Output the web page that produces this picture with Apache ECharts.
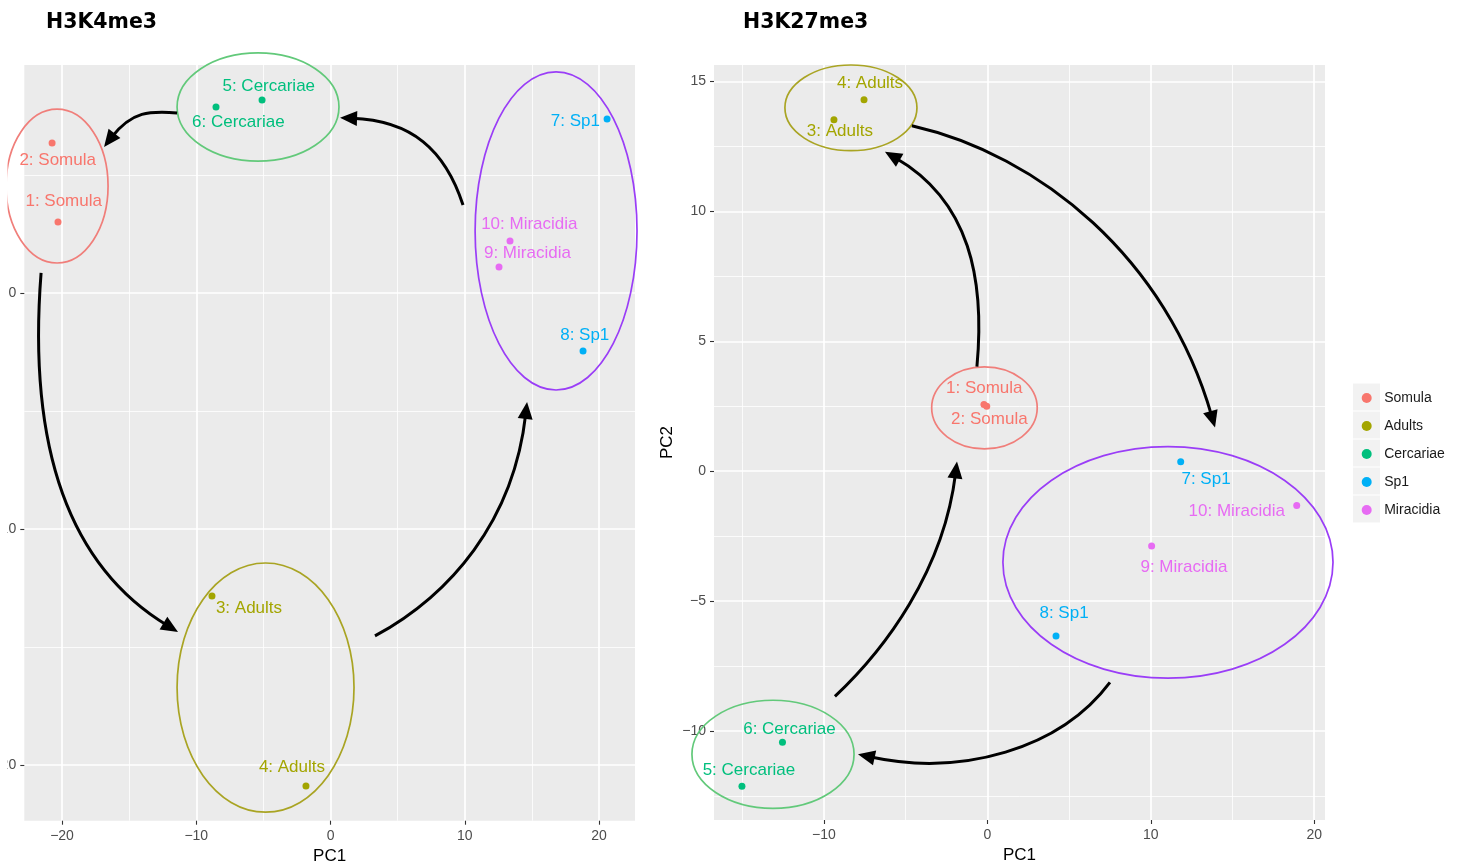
<!DOCTYPE html>
<html>
<head>
<meta charset="utf-8">
<script src="https://cdn.jsdelivr.net/npm/echarts@6/dist/echarts.min.js"></script>
<style>html,body{margin:0;padding:0;background:#fff}#c{width:1461px;height:865px}</style>
</head>
<body>
<div id="c"></div>
<script>
// ---------- data ----------
const groups = ['Somula', 'Adults', 'Cercariae', 'Sp1', 'Miracidia'];
const sampleIds = [1, 2, 3, 4, 5, 6, 7, 8, 9, 10];
const sampleGroups = ['Somula', 'Somula', 'Adults', 'Adults', 'Cercariae', 'Cercariae', 'Sp1', 'Sp1', 'Miracidia', 'Miracidia'];

// H3K4me3 PCA
const k4PC1 = [-20.30, -20.74, -8.83, -1.83, -5.10, -8.53, 20.60, 18.81, 12.55, 13.37];
const k4PC2 = [3.01, 6.36, -12.84, -20.89, 8.18, 7.88, 7.37, -2.46, 1.10, 2.20];
// H3K27me3 PCA
const k27PC1 = [-0.21, -0.04, -9.39, -7.55, -15.02, -12.54, 11.83, 4.20, 10.05, 18.93];
const k27PC2 = [2.57, 2.50, 13.53, 14.30, -12.13, -10.44, 0.36, -6.35, -2.88, -1.32];

// axis ranges and ticks
const k4XRange = [-22.81, 22.68];
const k4YRange = [-22.36, 9.66];
const k27XRange = [-16.73, 20.66];
const k27YRange = [-13.43, 15.64];
const k4XTicks = [-20, -10, 0, 10, 20];
const k4XMinor = [-15, -5, 5, 15];
const k4YTicks = [-20, -10, 0];
const k4YMinor = [-15, -5, 5];
const k27XTicks = [-10, 0, 10, 20];
const k27XMinor = [-15, -5, 5, 15];
const k27YTicks = [-10, -5, 0, 5, 10, 15];
const k27YMinor = [-12.5, -7.5, -2.5, 2.5, 7.5, 12.5];

// group ellipses [centre PC1, centre PC2, radius PC1, radius PC2]
const k4Ellipses = [[-20.37, 4.53, 3.80, 3.26], [-5.40, 7.88, 6.03, 2.29], [16.80, 2.63, 6.03, 6.74], [-4.84, -16.72, 6.59, 5.28]];
const k4EllipseGroups = ['Somula', 'Cercariae', 'Sp1+Miracidia', 'Adults'];
const k27Ellipses = [[-8.35, 13.99, 4.04, 1.65], [-0.18, 2.44, 3.23, 1.58], [11.05, -3.51, 10.10, 4.46], [-13.12, -10.90, 4.96, 2.08]];
const k27EllipseGroups = ['Adults', 'Somula', 'Sp1+Miracidia', 'Cercariae'];

// curved arrows (cubic): start, control1, control2, end in PC units
const k4Arrows = [
  [-11.43, 7.63, -13.45, 7.71, -15.31, 7.33, -16.87, 6.19],
  [9.87, 3.73, 8.53, 6.06, 5.18, 7.33, 0.71, 7.42],
  [-21.56, 0.85, -22.53, -6.23, -19.03, -11.74, -11.36, -14.36],
  [3.31, -14.53, 8.90, -12.80, 13.74, -9.19, 14.64, -4.62]
];
const k27Arrows = [
  [-0.64, 4.03, -0.15, 7.37, -1.68, 10.64, -6.27, 12.30],
  [-4.62, 13.30, 3.22, 12.18, 11.17, 7.76, 13.93, 1.68],
  [7.50, -8.13, 4.44, -10.70, -2.29, -11.67, -7.92, -10.90],
  [-9.33, -8.67, -6.27, -6.86, -2.59, -3.40, -1.86, 0.37]
];

// ---------- styling ----------
const groupColors = {Somula: '#F8766D', Adults: '#A3A500', Cercariae: '#00BF7D', Sp1: '#00B0F6', Miracidia: '#E76BF3'};
const ellipseColors = {Somula: '#F07E7A', Adults: '#A9A423', Cercariae: '#62C97A', 'Sp1+Miracidia': '#9A3DF7'};
// label offsets (px) from each point, sample order 1..10
const k4LabelOffsets = [[5.7, -20.6], [5.6, 17.7], [37, 12], [-14, -19], [6.7, -13.3], [22.3, 15], [-31.7, 2.7], [1.7, -16], [28.4, -14], [19.3, -16.7]];
const k27LabelOffsets = [[0.3, -15.7], [2.6, 12.6], [6, 11.5], [6, -16], [7, -16], [7, -13.5], [25.3, 17.5], [8, -22.7], [32.3, 21], [-60, 6]];

const FONT = 'Liberation Sans';
const fmt = v => String(v).replace('-', '\u2212');

function axes(gridIndex, range, major, minor, extra) {
  const majorAxis = Object.assign({
    type: 'value', gridIndex: gridIndex, min: range[0], max: range[1],
    axisLine: {show: false, onZero: false},
    axisTick: {show: true, length: 4, lineStyle: {color: '#333', width: 1.1}, customValues: major},
    axisLabel: {show: true, customValues: major, formatter: fmt, color: '#4D4D4D', fontSize: 14, fontFamily: FONT, margin: 8},
    splitLine: {show: true, lineStyle: {color: '#ffffff', width: 1.7}},
    minorTick: {show: false}, minorSplitLine: {show: false}
  }, extra || {});
  const minorAxis = {
    type: 'value', gridIndex: gridIndex, min: range[0], max: range[1],
    axisLine: {show: false, onZero: false},
    axisTick: {show: false, customValues: minor},
    axisLabel: {show: false},
    splitLine: {show: true, lineStyle: {color: '#ffffff', width: 0.8}},
    minorTick: {show: false}, minorSplitLine: {show: false}
  };
  return [majorAxis, minorAxis];
}

function scatterSeries(pc1, pc2, offsets, xi, yi) {
  return groups.map(g => ({
    name: g, type: 'scatter', xAxisIndex: xi, yAxisIndex: yi,
    symbol: 'circle', symbolSize: 7, z: 3,
    itemStyle: {color: groupColors[g], opacity: 1},
    emphasis: {disabled: true},
    label: {show: true, position: 'inside', formatter: p => p.name, color: groupColors[g], fontSize: 17, fontFamily: FONT, align: 'center', verticalAlign: 'middle'},
    data: sampleIds.map((id, i) => sampleGroups[i] === g ? {name: id + ': ' + g, value: [pc1[i], pc2[i]], label: {offset: offsets[i]}} : null).filter(Boolean)
  }));
}

function ellipseSeries(list, names, xi, yi) {
  return {
    type: 'custom', name: 'ellipses', xAxisIndex: xi, yAxisIndex: yi, clip: false, z: 2, silent: true,
    renderItem: function (params, api) {
      const c = api.coord([api.value(0), api.value(1)]);
      const s = api.size([api.value(2), api.value(3)]);
      return {type: 'ellipse', shape: {cx: c[0], cy: c[1], rx: s[0], ry: s[1]},
        style: {fill: 'none', stroke: ellipseColors[names[params.dataIndex]], lineWidth: 1.7}};
    },
    data: list
  };
}

function arrowSeries(list, xi, yi) {
  return {
    type: 'custom', name: 'arrows', xAxisIndex: xi, yAxisIndex: yi, clip: false, z: 5, silent: true,
    renderItem: function (params, api) {
      const p = [0, 1, 2, 3].map(i => api.coord([api.value(2 * i), api.value(2 * i + 1)]));
      const dx = p[3][0] - p[2][0], dy = p[3][1] - p[2][1];
      const L = Math.hypot(dx, dy), ux = dx / L, uy = dy / L;
      const hl = 17, hw = 7.5, back = hl * 0.7;
      const bx = p[3][0] - ux * hl, by = p[3][1] - uy * hl;
      return {type: 'group', children: [
        {type: 'bezierCurve', shape: {x1: p[0][0], y1: p[0][1], cpx1: p[1][0], cpy1: p[1][1],
          cpx2: p[2][0] - ux * back, cpy2: p[2][1] - uy * back, x2: p[3][0] - ux * back, y2: p[3][1] - uy * back},
          style: {fill: 'none', stroke: '#000', lineWidth: 3}},
        {type: 'polygon', shape: {points: [[p[3][0], p[3][1]], [bx - uy * hw, by + ux * hw], [bx + uy * hw, by - ux * hw]]},
          style: {fill: '#000', stroke: 'none'}}
      ]};
    },
    data: list
  };
}

const k4X = axes(0, k4XRange, k4XTicks, k4XMinor, {name: 'PC1', nameLocation: 'middle', nameGap: 24, nameTextStyle: {color: '#000', fontSize: 17, fontFamily: FONT}});
const k4Y = axes(0, k4YRange, k4YTicks, k4YMinor);
const k27X = axes(1, k27XRange, k27XTicks, k27XMinor, {name: 'PC1', nameLocation: 'middle', nameGap: 24, nameTextStyle: {color: '#000', fontSize: 17, fontFamily: FONT}});
const k27Y = axes(1, k27YRange, k27YTicks, k27YMinor, {name: 'PC2', nameLocation: 'middle', nameGap: 38, nameTextStyle: {color: '#000', fontSize: 17, fontFamily: FONT}});

const legendBoxes = groups.map((g, i) => ({type: 'rect', shape: {x: 1353, y: 383.5 + i * 28, width: 27, height: 27}, style: {fill: '#F2F2F2'}, z: 0, silent: true}));

const chart = echarts.init(document.getElementById('c'), null, {renderer: 'canvas'});
chart.setOption({
  backgroundColor: '#ffffff',
  animation: false,
  title: [
    {text: 'H3K4me3', left: 46, top: 12, padding: 0, textStyle: {fontSize: 20.5, fontWeight: 'bold', color: '#000', fontFamily: 'DejaVu Sans'}},
    {text: 'H3K27me3', left: 743, top: 12, padding: 0, textStyle: {fontSize: 20.5, fontWeight: 'bold', color: '#000', fontFamily: 'DejaVu Sans'}}
  ],
  grid: [
    {left: 24.3, top: 65, width: 610.7, height: 755.7, show: true, backgroundColor: '#EBEBEB', borderWidth: 0, containLabel: false, outerBoundsMode: 'none'},
    {left: 714, top: 65, width: 611, height: 755, show: true, backgroundColor: '#EBEBEB', borderWidth: 0, containLabel: false, outerBoundsMode: 'none'}
  ],
  xAxis: [k4X[0], k4X[1], k27X[0], k27X[1]],
  yAxis: [k4Y[0], k4Y[1], k27Y[0], k27Y[1]],
  legend: {
    data: groups, orient: 'vertical', left: 1361.7, top: 391, padding: 0,
    itemWidth: 10, itemHeight: 10, itemGap: 14, icon: 'circle', selectedMode: false,
    textStyle: {fontSize: 14, color: '#1A1A1A', fontFamily: FONT, lineHeight: 14, padding: [0, 0, 0, 7.5]}
  },
  graphic: legendBoxes.concat([
    {type: 'rect', shape: {x: 0, y: 0, width: 7.5, height: 865}, style: {fill: '#ffffff'}, z: 100, silent: true}
  ]),
  series: [].concat(
    [ellipseSeries(k4Ellipses, k4EllipseGroups, 0, 0)],
    scatterSeries(k4PC1, k4PC2, k4LabelOffsets, 0, 0),
    [arrowSeries(k4Arrows, 0, 0)],
    [ellipseSeries(k27Ellipses, k27EllipseGroups, 2, 2)],
    scatterSeries(k27PC1, k27PC2, k27LabelOffsets, 2, 2),
    [arrowSeries(k27Arrows, 2, 2)]
  )
});
</script>
</body>
</html>
